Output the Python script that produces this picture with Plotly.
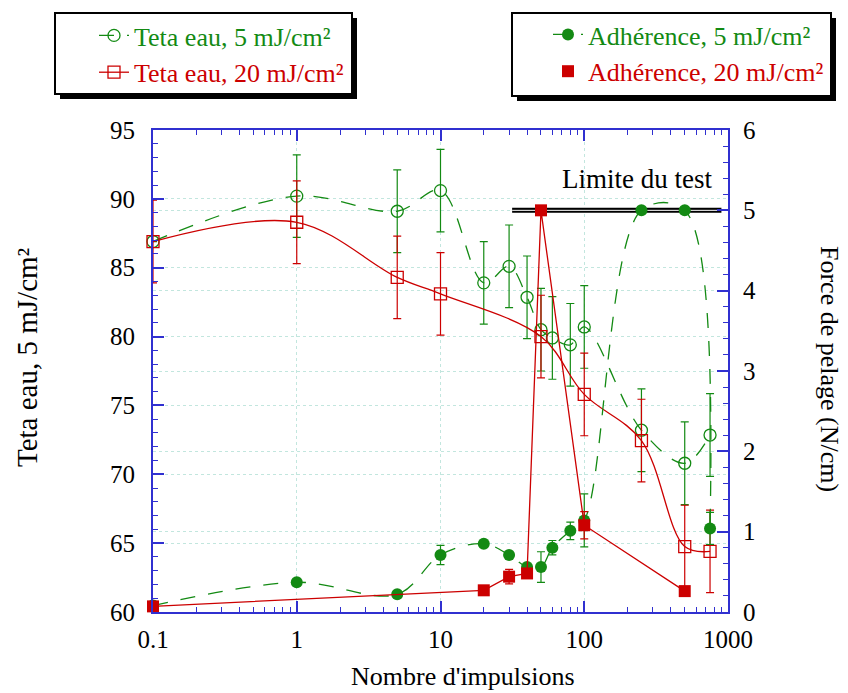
import plotly.graph_objects as go

# ---------------- data ----------------
teta5_x = [0.1, 1, 5, 10, 20, 30, 40, 50, 60, 80, 100, 250, 500, 750]
teta5_y = [86.9, 90.2, 89.1, 90.6, 83.9, 85.1, 82.85, 80.5, 79.9, 79.4, 80.7, 73.2, 70.8, 72.85]
teta5_err = [0, 3, 3, 3, 3, 3, 3, 3, 3, 3, 3, 3, 3, 3]

teta20_x = [0.1, 1, 5, 10, 50, 100, 250, 500, 750]
teta20_y = [86.9, 88.3, 84.3, 83.1, 80.0, 75.8, 72.45, 64.75, 64.4]
teta20_err = [3, 3, 3, 3, 3, 3, 3, 3, 3]

adh5_x = [0.1, 1, 5, 10, 20, 30, 40, 50, 60, 80, 100, 250, 500, 750]
adh5_y = [0.08, 0.37, 0.22, 0.71, 0.85, 0.71, 0.56, 0.56, 0.80, 1.01, 1.14, 5.0, 5.0, 1.04]
adh5_err = [0, 0, 0, 0.12, 0, 0, 0, 0.19, 0.09, 0.11, 0.33, 0, 0, 0.2]

adh20_x = [0.1, 20, 30, 40, 50, 100, 500]
adh20_y = [0.07, 0.27, 0.44, 0.48, 5.0, 1.08, 0.26]
adh20_err = [0, 0, 0.09, 0, 0, 0.17, 0]

limit_x = [31.5, 900]
limit_value = [5.0, 5.0]

x_tickvals = [0.1, 1, 10, 100, 1000]
x_ticktext = ["0.1", "1", "10", "100", "1000"]
x_minor_tickvals = [m * 10.0 ** e for e in range(-1, 3) for m in range(2, 10)]

# all x tick positions (short ticks), labelled only at decades
x_all_vals = x_tickvals + x_minor_tickvals
x_all_text = x_ticktext + [""] * len(x_minor_tickvals)

# ---------------- style ----------------
GREEN = "#138a13"
RED = "#cc0000"
AXIS = "#3030d0"
GRID = "#c2e6de"
FONT = "Liberation Serif, Times New Roman, serif"

OFF = 8                       # page body margin of the html page
W, H = 848 - OFF, 693 - OFF
PL, PR, PT, PB = 153, 728, 130, 612      # plot box in page pixels
L, T = PL - OFF, PT - OFF
R, B = W - (PR - OFF), H - (PB - OFF)
PW, PH = PR - PL, PB - PT


def px(x):
    return (x - PL) / PW


def py(y):
    return (PB - y) / PH


fig = go.Figure()

# limit line (double black line)
fig.add_trace(go.Scatter(x=limit_x, y=limit_value, yaxis="y2", mode="lines",
                         line=dict(color="black", width=5), showlegend=False,
                         hoverinfo="skip", cliponaxis=False))
fig.add_trace(go.Scatter(x=limit_x, y=limit_value, yaxis="y2", mode="lines",
                         line=dict(color="white", width=1), showlegend=False,
                         hoverinfo="skip", cliponaxis=False))

fig.add_trace(go.Scatter(
    x=teta5_x, y=teta5_y, mode="lines+markers", name="<span style='color:%s'>Teta eau, 5 mJ/cm²</span>" % GREEN,
    line=dict(color=GREEN, width=1.3, dash="15px,13px", shape="spline", smoothing=1),
    marker=dict(symbol="circle-open", size=12, color=GREEN, line=dict(width=1.3)),
    error_y=dict(type="data", array=teta5_err, color=GREEN, thickness=1.2, width=4),
    legend="legend", cliponaxis=False))

fig.add_trace(go.Scatter(
    x=teta20_x, y=teta20_y, mode="lines+markers", name="<span style='color:%s'>Teta eau, 20 mJ/cm²</span>" % RED,
    line=dict(color=RED, width=1.3, shape="spline", smoothing=1),
    marker=dict(symbol="square-open", size=12, color=RED, line=dict(width=1.3)),
    error_y=dict(type="data", array=teta20_err, color=RED, thickness=1.2, width=4),
    legend="legend", cliponaxis=False))

fig.add_trace(go.Scatter(
    x=adh5_x, y=adh5_y, yaxis="y2", mode="lines+markers", name="<span style='color:%s'>Adhérence, 5 mJ/cm²</span>" % GREEN,
    line=dict(color=GREEN, width=1.3, dash="15px,13px", shape="spline", smoothing=1),
    marker=dict(symbol="circle", size=12, color=GREEN),
    error_y=dict(type="data", array=adh5_err, color=GREEN, thickness=1.2, width=4),
    legend="legend2", cliponaxis=False))

fig.add_trace(go.Scatter(
    x=adh20_x, y=adh20_y, yaxis="y2", mode="lines", line=dict(color=RED, width=1.3),
    showlegend=False, cliponaxis=False))
fig.add_trace(go.Scatter(
    x=adh20_x, y=adh20_y, yaxis="y2", mode="markers", name="<span style='color:%s'>Adhérence, 20 mJ/cm²</span>" % RED,
    marker=dict(symbol="square", size=12, color=RED),
    error_y=dict(type="data", array=adh20_err, color=RED, thickness=1.2, width=4),
    legend="legend2", cliponaxis=False))

# legend boxes with drop shadow (page pixel coordinates)
shapes = []
for (x0, y0, x1, y1) in [(55, 13, 352, 94), (512, 13, 831, 96)]:
    shapes.append(dict(type="rect", xref="paper", yref="paper", layer="above",
                       x0=px(x0 + 5), x1=px(x1 + 5), y0=py(y0 + 5), y1=py(y1 + 5),
                       fillcolor="black", line=dict(width=0)))
    shapes.append(dict(type="rect", xref="paper", yref="paper", layer="above",
                       x0=px(x0), x1=px(x1), y0=py(y0), y1=py(y1),
                       fillcolor="white", line=dict(color="black", width=2)))


def ann(text, x, y, size, angle=0):
    return dict(text=text, xref="paper", yref="paper", x=px(x), y=py(y),
                xanchor="center", yanchor="middle", textangle=angle,
                showarrow=False, font=dict(family=FONT, size=size, color="black"))


annotations = [
    ann("Limite du test", 637, 179, 27),
    ann("Teta eau, 5 mJ/cm²", 27, 357, 29, -90),
    ann("Force de pelage (N/cm)", 830, 369, 26, 90),
    ann("Nombre d'impulsions", 463, 676, 26),
]

axis_style = dict(ticks="inside", tickcolor=AXIS, showline=True, linecolor=AXIS,
                  linewidth=2, zeroline=False)

fig.update_layout(
    width=W, height=H, margin=dict(l=L, r=R, t=T, b=B, autoexpand=False),
    paper_bgcolor="white", plot_bgcolor="white",
    font=dict(family=FONT, size=24, color="black"),
    shapes=shapes, annotations=annotations,
    legend=dict(x=px(94), y=py(12), xanchor="left", yanchor="top",
                bgcolor="rgba(0,0,0,0)", borderwidth=0, font=dict(family=FONT, size=26),
                tracegroupgap=0, itemwidth=30),
    legend2=dict(x=px(548), y=py(11), xanchor="left", yanchor="top",
                 bgcolor="rgba(0,0,0,0)", borderwidth=0, font=dict(family=FONT, size=26),
                 tracegroupgap=0, itemwidth=30),
    # short ticks at every position + decade labels (mirrored on top)
    xaxis=dict(type="log", range=[-1, 3], tickmode="array", tickvals=x_all_vals, ticktext=x_all_text,
               mirror="ticks", ticklen=5, tickwidth=1, showgrid=False,
               tickfont=dict(size=25), ticklabelstandoff=4, **axis_style),
    # long ticks + grid at decades (mirrored on top)
    xaxis2=dict(type="log", range=[-1, 3], tickmode="array", tickvals=x_tickvals,
                overlaying="x", side="bottom", anchor="y", showticklabels=False,
                mirror="ticks", ticklen=11, tickwidth=1.5,
                showgrid=True, gridcolor=GRID, griddash="dot", gridwidth=1, **axis_style),
    yaxis=dict(range=[60, 95], dtick=5, ticklen=11, tickwidth=1.5,
               minor=dict(dtick=1, ticks="inside", ticklen=5, tickcolor=AXIS, tickwidth=1, showgrid=False),
               showgrid=True, gridcolor=GRID, griddash="dot", gridwidth=1,
               tickfont=dict(size=25), ticklabelstandoff=11, **axis_style),
    yaxis2=dict(range=[0, 6], dtick=1, overlaying="y", side="right", ticklen=11, tickwidth=1.5,
                minor=dict(dtick=0.2, ticks="inside", ticklen=5, tickcolor=AXIS, tickwidth=1, showgrid=False),
                showgrid=True, gridcolor=GRID, griddash="dot", gridwidth=1,
                tickfont=dict(size=25), ticklabelstandoff=8, **axis_style),
)

# invisible trace to activate the decade-tick axis
fig.add_trace(go.Scatter(x=x_tickvals, y=[None] * len(x_tickvals), xaxis="x2", yaxis="y",
                         mode="markers", showlegend=False, hoverinfo="skip"))

fig.write_html("out.html")
